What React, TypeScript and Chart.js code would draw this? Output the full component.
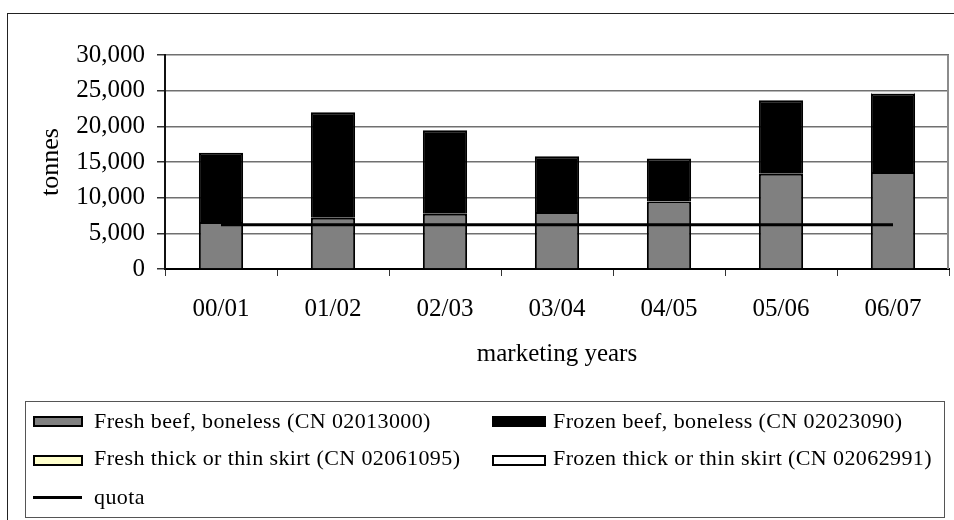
import React, { useEffect, useRef } from 'react';
import { Chart, registerables } from 'chart.js';

Chart.register(...registerables);

const categories = ['00/01', '01/02', '02/03', '03/04', '04/05', '05/06', '06/07'];
const freshBeef = [6600, 7200, 7750, 8000, 9450, 13350, 13600];
const frozenBeef = [9700, 14770, 11700, 7800, 6050, 10300, 10970];
const freshSkirt = [0, 0, 0, 0, 0, 0, 0];
const frozenSkirt = [0, 0, 0, 0, 0, 0, 150];
const quota = [6200, 6200, 6200, 6200, 6200, 6200, 6200];
const yMin = 0;
const yMax = 30000;
const yStep = 5000;

const legendItems = [
  { label: 'Fresh beef, boneless (CN 02013000)', fill: '#808080', kind: 'box' },
  { label: 'Frozen beef, boneless (CN 02023090)', fill: '#000000', kind: 'box' },
  { label: 'Fresh thick or thin skirt (CN 02061095)', fill: '#FFFFCC', kind: 'box' },
  { label: 'Frozen thick or thin skirt (CN 02062991)', fill: '#FFFFFF', kind: 'box' },
  { label: 'quota', fill: '#000000', kind: 'line' },
];

const FONT = "'Liberation Serif', 'Times New Roman', serif";

const plotBorder = {
  id: 'plotBorder',
  beforeDatasetsDraw(chart: any) {
    const { ctx, chartArea } = chart;
    ctx.save();
    ctx.strokeStyle = '#8c8c8c';
    ctx.lineWidth = 2;
    ctx.beginPath();
    ctx.moveTo(chartArea.right - 1, chartArea.top);
    ctx.lineTo(chartArea.right - 1, chartArea.bottom);
    ctx.stroke();
    ctx.restore();
  },
};

export default function App() {
  const canvasRef = useRef<HTMLCanvasElement | null>(null);

  useEffect(() => {
    if (!canvasRef.current) return;
    Chart.defaults.font.family = FONT;
    Chart.defaults.color = '#000';
    const chart = new Chart(canvasRef.current, {
      type: 'bar',
      data: {
        labels: categories,
        datasets: [
          {
            type: 'line',
            label: 'quota',
            data: quota,
            borderColor: '#000',
            borderWidth: 3,
            pointRadius: 0,
            fill: false,
            stack: 'quota',
            order: 0,
          } as any,
          {
            label: legendItems[0].label,
            data: freshBeef,
            backgroundColor: '#808080',
            borderColor: '#000',
            borderWidth: 2,
            stack: 'beef',
            order: 1,
          },
          {
            label: legendItems[1].label,
            data: frozenBeef,
            backgroundColor: '#000',
            borderColor: '#000',
            borderWidth: 2,
            stack: 'beef',
            order: 1,
          },
          {
            label: legendItems[2].label,
            data: freshSkirt,
            backgroundColor: '#FFFFCC',
            borderColor: '#000',
            borderWidth: 1,
            stack: 'beef',
            order: 1,
          },
          {
            label: legendItems[3].label,
            data: frozenSkirt,
            backgroundColor: '#FFFFFF',
            borderColor: '#000',
            borderWidth: 1,
            stack: 'beef',
            order: 1,
          },
        ],
      },
      options: {
        animation: false,
        responsive: false,
        devicePixelRatio: 1,
        layout: { padding: { left: 0, right: 5, top: 55, bottom: 150 } },
        datasets: {
          bar: { categoryPercentage: 1, barPercentage: 0.395 },
        },
        plugins: {
          legend: { display: false },
          tooltip: { enabled: false },
          title: { display: false },
        },
        scales: {
          x: {
            afterFit: (scale: any) => {
              scale.height = 101;
            },
            grid: {
              display: true,
              drawOnChartArea: false,
              drawTicks: true,
              tickLength: 7,
              tickColor: '#333',
              offset: true,
            },
            border: { display: true, color: '#000', width: 2 },
            ticks: {
              font: { size: 25, family: FONT },
              color: '#000',
              padding: 18,
              maxRotation: 0,
            },
            title: {
              display: true,
              text: 'marketing years',
              font: { size: 25, family: FONT },
              color: '#000',
              padding: { top: 0, bottom: 1 },
            },
          },
          y: {
            stacked: true,
            min: yMin,
            max: yMax,
            afterFit: (scale: any) => {
              scale.width = 165;
            },
            grid: {
              color: '#707070',
              lineWidth: 1.5,
              tickLength: 8,
              tickColor: '#333',
            },
            border: { display: true, color: '#111', width: 2 },
            ticks: {
              stepSize: yStep,
              font: { size: 25, family: FONT },
              color: '#000',
              padding: 12,
              callback: (v: any) => Number(v).toLocaleString('en-US'),
            },
            title: {
              display: true,
              text: 'tonnes',
              font: { size: 26, family: FONT },
              color: '#000',
              padding: { top: 36, bottom: 0 },
            },
          },
        },
      },
      plugins: [plotBorder],
    } as any);
    return () => chart.destroy();
  }, []);

  const rowText = [409, 446, 485];
  const rowSwatch = [416, 455, 496];
  const colSwatchLeft = [33, 492];
  const colSwatchWidth = [50, 54];
  const colText = [94, 553];

  return (
    <div
      style={{
        position: 'fixed',
        left: 0,
        top: 0,
        width: 954,
        height: 520,
        background: '#fff',
        overflow: 'hidden',
      }}
    >
      <canvas
        ref={canvasRef}
        width={954}
        height={520}
        style={{ position: 'absolute', left: 0, top: 0, width: 954, height: 520 }}
      />
      <div
        style={{
          position: 'absolute',
          left: 7,
          top: 13,
          width: 1000,
          height: 600,
          border: '1px solid #222',
          pointerEvents: 'none',
        }}
      />
      <div
        style={{
          position: 'absolute',
          left: 25,
          top: 401,
          width: 920,
          height: 117,
          border: '1px solid #555',
          boxSizing: 'border-box',
          pointerEvents: 'none',
        }}
      />
      {legendItems.map((item, i) => {
        const row = Math.floor(i / 2);
        const col = i % 2;
        const swatch =
          item.kind === 'line' ? (
            <div
              key={'s' + i}
              style={{
                position: 'absolute',
                left: colSwatchLeft[col],
                top: rowSwatch[row],
                width: 49,
                height: 3,
                background: item.fill,
              }}
            />
          ) : (
            <div
              key={'s' + i}
              style={{
                position: 'absolute',
                left: colSwatchLeft[col],
                top: rowSwatch[row],
                width: colSwatchWidth[col],
                height: 11,
                background: item.fill,
                border: '2px solid #000',
                boxSizing: 'border-box',
              }}
            />
          );
        return (
          <React.Fragment key={i}>
            {swatch}
            <div
              style={{
                position: 'absolute',
                left: colText[col],
                top: rowText[row],
                height: 24,
                lineHeight: '24px',
                fontFamily: FONT,
                fontSize: 22,
                letterSpacing: '0.4px',
                color: '#000',
                whiteSpace: 'nowrap',
              }}
            >
              {item.label}
            </div>
          </React.Fragment>
        );
      })}
    </div>
  );
}
